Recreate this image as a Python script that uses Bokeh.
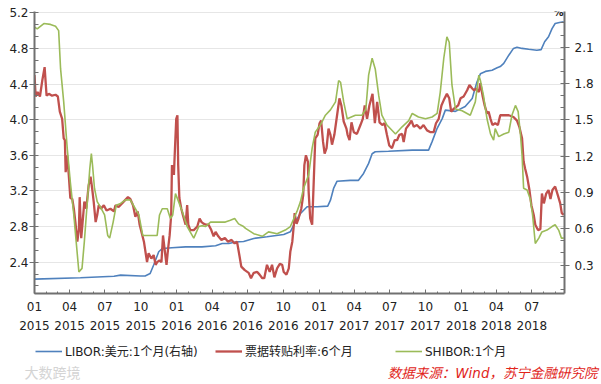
import pandas as pd
from bokeh.plotting import figure
from bokeh.layouts import column
from bokeh.models import (Range1d, LinearAxis, DatetimeAxis, FixedTicker, SingleIntervalTicker,
                          PrintfTickFormatter, DatetimeTickFormatter, Legend, LegendItem, Label)
from bokeh.embed import file_html
from bokeh.resources import INLINE

# ---------------- data ----------------
libor_dates = ["2015-01-01", "2015-04-29", "2015-07-24", "2015-08-10", "2015-09-30", "2015-10-12",
               "2015-10-25", "2015-11-03", "2015-11-16", "2015-11-25", "2015-12-20", "2016-01-24",
               "2016-03-06", "2016-04-10", "2016-04-27", "2016-05-14", "2016-05-31", "2016-06-21",
               "2016-07-17", "2016-08-20", "2016-10-02", "2016-10-19", "2016-11-01", "2016-11-14",
               "2016-12-01", "2016-12-27", "2017-01-23", "2017-01-30", "2017-02-07", "2017-02-16",
               "2017-03-22", "2017-04-12", "2017-04-25", "2017-05-08", "2017-05-17", "2017-05-25",
               "2017-06-28", "2017-08-28", "2017-10-09", "2017-10-18", "2017-10-31", "2017-11-13",
               "2017-11-21", "2017-12-17", "2018-01-11", "2018-01-29", "2018-02-10", "2018-02-19",
               "2018-03-04", "2018-03-21", "2018-04-03", "2018-04-11", "2018-04-20", "2018-05-03",
               "2018-05-15", "2018-05-24", "2018-06-06", "2018-06-23", "2018-07-14", "2018-07-25",
               "2018-08-03", "2018-08-13", "2018-08-22", "2018-08-30", "2018-09-10", "2018-09-21"]
libor_values = [0.184, 0.195, 0.208, 0.217, 0.21, 0.21,
                0.23, 0.30, 0.41, 0.437, 0.443, 0.45,
                0.45, 0.46, 0.478, 0.478, 0.49, 0.495,
                0.52, 0.534, 0.553, 0.575, 0.658, 0.726,
                0.782, 0.782, 0.787, 0.836, 0.933, 0.993,
                1.00, 1.00, 1.057, 1.14, 1.22, 1.236,
                1.24, 1.25, 1.25, 1.32, 1.43, 1.51,
                1.58, 1.57, 1.61, 1.676, 1.81, 1.88,
                1.90, 1.91, 1.93, 1.94, 1.966, 2.034,
                2.09, 2.10, 2.09, 2.083, 2.075, 2.08,
                2.145, 2.186, 2.254, 2.296, 2.304, 2.31]

bill_dates = ["2015-01-01", "2015-01-04", "2015-01-09", "2015-01-15", "2015-01-21", "2015-01-27",
              "2015-02-01", "2015-02-07", "2015-02-15", "2015-02-24", "2015-03-02", "2015-03-07",
              "2015-03-13", "2015-03-17", "2015-03-20", "2015-03-22", "2015-03-26", "2015-03-30",
              "2015-04-03", "2015-04-08", "2015-04-12", "2015-04-16", "2015-04-21", "2015-04-25",
              "2015-04-27", "2015-05-01", "2015-05-04", "2015-05-09", "2015-05-14", "2015-05-20",
              "2015-05-25", "2015-05-29", "2015-06-02", "2015-06-07", "2015-06-11", "2015-06-15",
              "2015-06-21", "2015-06-28", "2015-07-05", "2015-07-15", "2015-07-24", "2015-07-28",
              "2015-08-05", "2015-08-18", "2015-08-29", "2015-09-04", "2015-09-11", "2015-09-17",
              "2015-09-23", "2015-09-28", "2015-10-09", "2015-10-17", "2015-10-21", "2015-10-28",
              "2015-11-03", "2015-11-08", "2015-11-12", "2015-11-18", "2015-11-23", "2015-11-27",
              "2015-12-01", "2015-12-06", "2015-12-10", "2015-12-14", "2015-12-18", "2015-12-20",
              "2015-12-25", "2015-12-27", "2015-12-31", "2016-01-03", "2016-01-05", "2016-01-08",
              "2016-01-13", "2016-01-17", "2016-01-24", "2016-01-28", "2016-01-31", "2016-02-05",
              "2016-02-14", "2016-02-23", "2016-02-29", "2016-03-05", "2016-03-11", "2016-03-17",
              "2016-03-23", "2016-03-30", "2016-04-05", "2016-04-10", "2016-04-17", "2016-04-25",
              "2016-05-04", "2016-05-12", "2016-05-21", "2016-05-29", "2016-06-04", "2016-06-10",
              "2016-06-15", "2016-06-24", "2016-07-04", "2016-07-10", "2016-07-17", "2016-07-26",
              "2016-08-01", "2016-08-08", "2016-08-13", "2016-08-20", "2016-08-27", "2016-09-02",
              "2016-09-08", "2016-09-15", "2016-09-22", "2016-09-28", "2016-10-02", "2016-10-09",
              "2016-10-15", "2016-10-19", "2016-10-24", "2016-10-28", "2016-10-30", "2016-11-04",
              "2016-11-09", "2016-11-16", "2016-11-21", "2016-11-24", "2016-11-28", "2016-12-03",
              "2016-12-05", "2016-12-09", "2016-12-14", "2016-12-18", "2016-12-22", "2016-12-28",
              "2017-01-02", "2017-01-06", "2017-01-11", "2017-01-15", "2017-01-20", "2017-01-25",
              "2017-01-30", "2017-02-03", "2017-02-09", "2017-02-16", "2017-02-22", "2017-02-27",
              "2017-03-05", "2017-03-12", "2017-03-15", "2017-03-20", "2017-03-25", "2017-03-31",
              "2017-04-08", "2017-04-17", "2017-04-23", "2017-04-28", "2017-05-04", "2017-05-10",
              "2017-05-18", "2017-05-24", "2017-05-30", "2017-06-05", "2017-06-12", "2017-06-18",
              "2017-06-24", "2017-06-30", "2017-07-07", "2017-07-14", "2017-07-20", "2017-07-26",
              "2017-08-02", "2017-08-06", "2017-08-12", "2017-08-19", "2017-08-26", "2017-09-01",
              "2017-09-09", "2017-09-18", "2017-09-26", "2017-10-05", "2017-10-14", "2017-10-22",
              "2017-10-28", "2017-11-04", "2017-11-11", "2017-11-17", "2017-11-25", "2017-12-01",
              "2017-12-06", "2017-12-12", "2017-12-24", "2017-12-30", "2018-01-07", "2018-01-16",
              "2018-01-22", "2018-01-29", "2018-02-03", "2018-02-08", "2018-02-15", "2018-02-19",
              "2018-02-25", "2018-03-02", "2018-03-08", "2018-03-12", "2018-03-17", "2018-03-22",
              "2018-03-29", "2018-04-05", "2018-04-11", "2018-04-20", "2018-05-03", "2018-05-15",
              "2018-05-24", "2018-05-30", "2018-06-06", "2018-06-10", "2018-06-14", "2018-06-19",
              "2018-06-25", "2018-06-30", "2018-07-06", "2018-07-10", "2018-07-17", "2018-07-23",
              "2018-07-27", "2018-08-01", "2018-08-07", "2018-08-13", "2018-08-18", "2018-08-23",
              "2018-08-30", "2018-09-06", "2018-09-12", "2018-09-16", "2018-09-21"]
bill_values = [4.50, 4.26, 4.31, 4.26, 4.44, 4.59,
               4.27, 4.29, 4.27, 4.28, 4.26, 4.09,
               4.01, 3.79, 3.77, 3.41, 3.60, 3.38,
               3.12, 3.11, 3.00, 2.85, 2.63, 2.77,
               3.13, 2.67, 2.82, 3.08, 3.00, 3.26,
               3.36, 3.23, 3.08, 2.85, 2.93, 3.04,
               3.00, 3.04, 2.98, 3.00, 2.97, 3.04,
               3.02, 3.08, 3.13, 3.11, 3.04, 2.91,
               2.97, 2.82, 2.63, 2.40, 2.50, 2.44,
               2.48, 2.37, 2.40, 2.42, 2.40, 2.70,
               2.55, 2.37, 2.55, 2.70, 2.93, 3.49,
               3.38, 3.60, 4.01, 4.05, 3.49, 3.12,
               3.00, 2.93, 2.82, 3.04, 2.82, 2.76,
               2.76, 2.80, 2.89, 2.85, 2.83, 2.82,
               2.82, 2.76, 2.69, 2.74, 2.69, 2.65,
               2.67, 2.63, 2.65, 2.61, 2.63, 2.48,
               2.35, 2.31, 2.28, 2.22, 2.28, 2.29,
               2.26, 2.22, 2.22, 2.37, 2.29, 2.37,
               2.23, 2.33, 2.38, 2.37, 2.29, 2.26,
               2.33, 2.52, 2.63, 2.82, 2.95, 2.83,
               2.89, 3.00, 3.15, 3.49, 3.60, 3.53,
               3.19, 2.89, 2.82, 3.30, 3.79, 3.83,
               3.96, 3.99, 3.75, 3.62, 3.68, 3.90,
               3.83, 3.72, 3.83, 4.05, 4.24, 4.16,
               3.98, 3.90, 3.83, 3.77, 3.97, 3.86,
               3.84, 3.94, 4.01, 4.16, 4.01, 4.16,
               4.29, 3.96, 4.20, 3.97, 3.94, 3.96,
               3.83, 3.71, 3.68, 3.77, 3.77, 3.83,
               3.84, 3.75, 3.90, 3.94, 3.99, 3.92,
               3.94, 3.90, 3.94, 3.88, 3.86, 3.86,
               3.96, 4.01, 4.16, 4.22, 4.29, 4.24,
               4.09, 4.12, 4.16, 4.24, 4.26, 4.33,
               4.39, 4.35, 4.33, 4.35, 4.31, 4.41,
               4.26, 4.16, 4.07, 4.09, 4.01, 3.94,
               3.96, 3.94, 4.05, 4.05, 4.05, 4.03,
               3.99, 3.92, 3.79, 3.53, 3.45, 3.36,
               3.21, 3.04, 2.93, 2.82, 2.76, 2.77,
               3.17, 3.06, 3.17, 3.21, 3.11, 3.21,
               3.25, 3.15, 3.06, 2.95, 2.93]

shibor_dates = ["2015-01-01", "2015-01-08", "2015-01-25", "2015-02-11", "2015-02-24", "2015-03-04",
                "2015-03-09", "2015-03-17", "2015-03-26", "2015-04-03", "2015-04-12", "2015-04-18",
                "2015-04-25", "2015-05-03", "2015-05-09", "2015-05-16", "2015-05-23", "2015-05-27",
                "2015-05-30", "2015-06-04", "2015-06-11", "2015-06-19", "2015-06-30", "2015-07-08",
                "2015-07-13", "2015-07-22", "2015-07-30", "2015-08-10", "2015-08-23", "2015-09-04",
                "2015-09-17", "2015-09-26", "2015-10-06", "2015-10-21", "2015-11-12", "2015-11-18",
                "2015-11-25", "2015-12-08", "2015-12-16", "2015-12-22", "2015-12-29", "2016-01-06",
                "2016-01-17", "2016-01-28", "2016-02-14", "2016-02-27", "2016-03-06", "2016-03-15",
                "2016-03-28", "2016-04-10", "2016-05-05", "2016-05-18", "2016-05-29", "2016-06-08",
                "2016-06-21", "2016-06-26", "2016-07-17", "2016-08-08", "2016-08-24", "2016-09-15",
                "2016-10-06", "2016-10-19", "2016-10-28", "2016-11-05", "2016-11-14", "2016-11-22",
                "2016-12-05", "2016-12-14", "2016-12-22", "2017-01-04", "2017-01-17", "2017-01-30",
                "2017-02-12", "2017-02-20", "2017-02-25", "2017-03-05", "2017-03-14", "2017-04-04",
                "2017-04-21", "2017-05-01", "2017-05-08", "2017-05-17", "2017-05-25", "2017-06-03",
                "2017-06-11", "2017-06-24", "2017-07-16", "2017-08-02", "2017-08-19", "2017-08-28",
                "2017-09-13", "2017-10-01", "2017-10-18", "2017-10-31", "2017-11-08", "2017-11-17",
                "2017-11-25", "2017-12-01", "2017-12-08", "2017-12-17", "2018-01-03", "2018-01-24",
                "2018-02-06", "2018-02-15", "2018-02-19", "2018-02-27", "2018-03-08", "2018-03-17",
                "2018-03-25", "2018-03-29", "2018-04-07", "2018-04-20", "2018-05-03", "2018-05-11",
                "2018-05-20", "2018-05-27", "2018-06-02", "2018-06-06", "2018-06-10", "2018-06-19",
                "2018-06-27", "2018-07-03", "2018-07-10", "2018-07-19", "2018-07-27", "2018-08-09",
                "2018-08-22", "2018-08-30", "2018-09-08", "2018-09-15", "2018-09-21"]
shibor_values = [5.04, 5.02, 5.08, 5.07, 5.05, 5.00,
                 4.57, 4.20, 3.68, 3.30, 2.93, 2.63,
                 2.29, 2.33, 2.63, 3.04, 3.45, 3.62,
                 3.49, 3.23, 3.08, 3.02, 2.93, 2.70,
                 2.67, 2.85, 3.04, 3.06, 3.10, 3.10,
                 3.00, 2.93, 2.70, 2.70, 2.70, 2.93,
                 3.00, 3.00, 2.89, 2.93, 3.17, 3.08,
                 2.95, 2.80, 2.67, 2.80, 2.81, 2.80,
                 2.85, 2.85, 2.85, 2.87, 2.89, 2.83,
                 2.80, 2.78, 2.72, 2.69, 2.74, 2.72,
                 2.76, 2.80, 2.89, 2.97, 3.08, 3.23,
                 3.38, 3.68, 3.86, 3.94, 4.05, 4.11,
                 4.20, 4.44, 4.42, 4.20, 4.01, 4.05,
                 4.05, 4.12, 4.50, 4.69, 4.57, 4.27,
                 4.05, 3.94, 3.84, 3.92, 3.99, 4.07,
                 4.03, 4.01, 4.03, 4.07, 4.31, 4.69,
                 4.93, 4.87, 4.39, 4.12, 4.10, 4.05,
                 4.20, 4.50, 4.44, 4.27, 4.01, 3.84,
                 3.77, 3.90, 3.81, 3.84, 3.86, 4.05,
                 4.16, 4.09, 3.83, 3.60, 3.23, 3.21,
                 3.11, 2.93, 2.61, 2.67, 2.74, 2.76,
                 2.80, 2.82, 2.76, 2.67, 2.67]

quarter_ticks = ["2015-01-01", "2015-04-01", "2015-07-01", "2015-10-01",
                 "2016-01-01", "2016-04-01", "2016-07-01", "2016-10-01",
                 "2017-01-01", "2017-04-01", "2017-07-01", "2017-10-01",
                 "2018-01-01", "2018-04-01", "2018-07-01"]
x_start, x_end = "2015-01-01", "2018-09-23"
left_range = (2.048, 5.215)
right_range = (0.065, 2.395)

series_labels = ["LIBOR:美元:1个月(右轴)", "票据转贴利率:6个月", "SHIBOR:1个月"]
source_text = "数据来源：Wind，苏宁金融研究院"
watermark_text = "大数跨境"

# ---------------- styling ----------------
FONT = "DejaVu Sans, 'Noto Sans CJK SC'"
AX = "#707070"
TXT = "#222222"
C_BLUE, C_RED, C_GREEN = "#4f81bd", "#c0504d", "#9bbb59"
W = 601


def ms(s):
    return pd.Timestamp(s).value // 10**6


# ---------------- main chart ----------------
p = figure(width=W, height=340, output_backend="svg", toolbar_location=None,
           x_axis_type=None, x_range=Range1d(ms(x_start), ms(x_end)),
           y_range=Range1d(*left_range),
           min_border_left=34, min_border_right=37, min_border_top=11, min_border_bottom=47)
p.outline_line_color = None
p.frame_align = False
p.extra_y_ranges = {"right": Range1d(*right_range)}

libor_x = pd.to_datetime(libor_dates)
bill_x = pd.to_datetime(bill_dates)
shibor_x = pd.to_datetime(shibor_dates)

p.line(libor_x, libor_values, y_range_name="right", line_color=C_BLUE, line_width=1.6)
p.line(bill_x, bill_values, line_color=C_RED, line_width=2.3)
p.line(shibor_x, shibor_values, line_color=C_GREEN, line_width=1.6)


def style_y(ax, standoff):
    ax.axis_line_color = AX
    ax.axis_line_width = 2
    ax.major_tick_line_color = AX
    ax.minor_tick_line_color = AX
    ax.major_tick_out = 5
    ax.major_tick_in = 0
    ax.minor_tick_out = 0
    ax.minor_tick_in = 4
    ax.major_label_standoff = standoff
    ax.major_label_text_font = FONT
    ax.major_label_text_font_size = "12px"
    ax.major_label_text_color = TXT


lt = SingleIntervalTicker(interval=0.4, num_minor_ticks=3)
ya = p.yaxis[0]
ya.ticker = lt
ya.formatter = PrintfTickFormatter(format="%.1f")
style_y(ya, 1)
p.ygrid.ticker = lt
p.ygrid.grid_line_color = "#e6e6e6"

rt = SingleIntervalTicker(interval=0.3, num_minor_ticks=3)
ra = LinearAxis(y_range_name="right", ticker=rt, formatter=PrintfTickFormatter(format="%.1f"))
style_y(ra, 5)
p.add_layout(ra, "right")

qt = [ms(t) for t in quarter_ticks]
mt = [ms(t) for t in pd.date_range(x_start, x_end, freq="MS")]
xt = FixedTicker(ticks=qt, minor_ticks=mt)

xa = DatetimeAxis(ticker=xt, formatter=DatetimeTickFormatter(days="%m", months="%m", years="%m"))
xa.axis_line_color = AX
xa.axis_line_width = 2
xa.major_tick_line_color = AX
xa.minor_tick_line_color = AX
xa.major_tick_in = 4
xa.major_tick_out = 0
xa.minor_tick_in = 2
xa.minor_tick_out = 0
xa.major_label_standoff = 8
xa.major_label_text_font = FONT
xa.major_label_text_font_size = "12px"
xa.major_label_text_color = TXT
p.add_layout(xa, "below")

xb = DatetimeAxis(ticker=xt, formatter=DatetimeTickFormatter(days="%Y", months="%Y", years="%Y"))
xb.axis_line_color = None
xb.major_tick_line_color = None
xb.minor_tick_line_color = None
xb.major_tick_in = 0
xb.major_tick_out = 0
xb.minor_tick_in = 0
xb.minor_tick_out = 0
xb.major_label_standoff = 7
xb.major_label_text_font = FONT
xb.major_label_text_font_size = "12px"
xb.major_label_text_color = TXT
p.add_layout(xb, "below")

p.add_layout(Label(x=ms(x_end), y=left_range[1], text="%", text_align="right",
                   text_baseline="middle", x_offset=-1, y_offset=-1,
                   text_font=FONT, text_font_size="10px", text_font_style="bold",
                   text_color=TXT))

# ---------------- legend / source strip ----------------
H2 = 44
q = figure(width=W, height=H2, output_backend="svg", toolbar_location=None,
           x_axis_type=None, y_axis_type=None,
           x_range=Range1d(0, W), y_range=Range1d(0, H2),
           min_border=0)
q.outline_line_color = None
q.frame_align = False
q.grid.visible = False
# legend samples reuse the series (they fall outside this strip's ranges)
lb = q.line(libor_x, libor_values, line_color=C_BLUE, line_width=1.6)
lr = q.line(bill_x, bill_values, line_color=C_RED, line_width=2.3)
lg = q.line(shibor_x, shibor_values, line_color=C_GREEN, line_width=1.6)

legend = Legend(items=[LegendItem(label=series_labels[0], renderers=[lb]),
                       LegendItem(label=series_labels[1], renderers=[lr]),
                       LegendItem(label=series_labels[2], renderers=[lg])],
                orientation="horizontal", location=(35, 25),
                glyph_width=27, glyph_height=14, label_height=14, label_standoff=3,
                label_width=150, spacing=0, padding=0, margin=0,
                border_line_color=None, background_fill_alpha=0,
                label_text_font=FONT, label_text_font_size="12px", label_text_color=TXT)
q.add_layout(legend)

q.add_layout(Label(x=597, y=12, text=source_text, text_align="right", text_baseline="middle",
                   text_font=FONT, text_font_size="13.5px", text_font_style="italic",
                   text_color="#e1251b"))
q.add_layout(Label(x=24, y=12, text=watermark_text, text_align="left", text_baseline="middle",
                   text_font=FONT, text_font_size="14px", text_color="#d4d4d4"))

layout = column(p, q, spacing=0)
open("out.html", "w").write(file_html(layout, INLINE))
